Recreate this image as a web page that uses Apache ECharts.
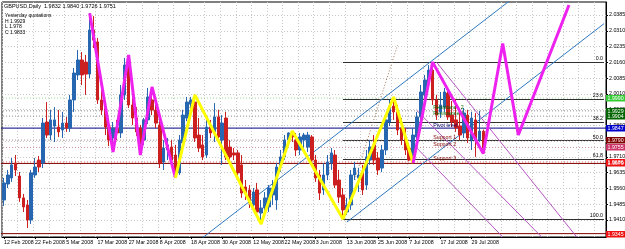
<!DOCTYPE html>
<html><head><meta charset="utf-8">
<script src="https://cdn.jsdelivr.net/npm/echarts@6/dist/echarts.min.js"></script>
<style>html,body{margin:0;padding:0;background:#fff}#c{width:625px;height:249px}</style>
</head><body><div id="c"></div>
<script>
// ---- data ----
const symbolName = 'GBPUSD,Daily';
const openP = [1.9505,1.9581,1.9610,1.9681,1.9619,1.9515,1.9481,1.9410,1.9624,1.9695,1.9681,1.9876,1.9814,1.9857,1.9852,1.9838,
1.9871,
1.9848,1.9981,2.0100,2.0171,2.0161,2.0104,2.0314,2.0257,1.9981,1.9943,1.9852,1.9800,1.9848,1.9824,2.0005,2.0147,1.9957,1.9895,1.9848,1.9790,1.9886,1.9981,1.9933,1.9862,1.9686,1.9743,1.9757,1.9719,1.9634,1.9776,1.9895,1.9962,1.9971,1.9814,1.9767,1.9719,
1.9852,
1.9830,1.9900,1.9790,1.9895,1.9757,1.9729,1.9729,1.9672,1.9567,1.9553,1.9481,1.9553,1.9443,1.9467,1.9472,1.9529,1.9505,1.9662,1.9710,1.9790,1.9824,1.9790,1.9743,1.9790,1.9757,1.9805,1.9695,1.9624,1.9553,1.9624,1.9681,1.9719,1.9600,1.9529,1.9448,1.9481,
1.9624,
1.9610,1.9638,1.9576,1.9695,1.9767,1.9705,1.9657,1.9743,1.9876,1.9952,1.9924,1.9848,1.9800,1.9752,1.9695,1.9805,1.9900,2.0005,2.0066,2.0123,1.9981,1.9924,1.9947,2.0014,1.9909,1.9886,1.9857,1.9824,1.9909,1.9790,1.9886,1.9790,1.9832];
const closeP = [1.9586,1.9624,1.9672,1.9648,1.9515,1.9472,1.9410,1.9634,1.9662,1.9662,1.9871,1.9814,1.9886,1.9886,1.9829,1.9871,
1.9848,
1.9981,2.0109,2.0171,2.0100,2.0104,2.0314,2.0266,1.9981,1.9933,1.9852,1.9790,1.9848,1.9824,2.0005,2.0147,1.9957,1.9895,1.9829,1.9743,1.9886,1.9995,1.9933,1.9871,1.9681,1.9752,1.9767,1.9695,1.9624,1.9790,1.9909,1.9971,1.9981,1.9800,1.9752,1.9710,1.9852,
1.9824,
1.9900,1.9805,1.9871,1.9710,1.9710,1.9719,1.9634,1.9538,1.9538,1.9491,1.9543,1.9448,1.9467,1.9515,1.9562,1.9562,1.9662,1.9710,1.9790,1.9824,1.9805,1.9743,1.9805,1.9814,1.9814,1.9695,1.9610,1.9538,1.9624,1.9686,1.9729,1.9576,1.9519,1.9458,1.9481,1.9624,
1.9657,
1.9624,1.9553,1.9710,1.9757,1.9695,1.9648,1.9743,1.9886,1.9952,1.9924,1.9838,1.9790,1.9743,1.9695,1.9814,1.9900,2.0019,2.0076,2.0123,1.9981,1.9909,1.9957,2.0019,1.9900,1.9876,1.9848,1.9814,1.9919,1.9800,1.9895,1.9790,1.9833,1.9751];
const highP = [1.9610,1.9648,1.9705,1.9719,1.9638,1.9534,1.9505,1.9648,1.9705,1.9714,1.9895,1.9971,1.9933,1.9947,1.9933,1.9924,
1.9900,
2.0005,2.0133,2.0219,2.0209,2.0195,2.0394,2.0380,2.0276,2.0085,1.9957,1.9895,1.9876,1.9886,2.0052,2.0181,2.0195,1.9990,1.9947,1.9862,1.9895,2.0038,2.0043,1.9957,1.9886,1.9790,1.9800,1.9790,1.9767,1.9814,1.9933,1.9995,1.9995,2.0005,1.9895,1.9814,1.9886,
1.9886,
1.9966,1.9933,1.9909,1.9924,1.9790,1.9752,1.9743,1.9719,1.9600,1.9576,1.9562,1.9586,1.9505,1.9543,1.9576,1.9600,1.9681,1.9743,1.9814,1.9826,1.9833,1.9824,1.9824,1.9824,1.9829,1.9814,1.9719,1.9648,1.9681,1.9719,1.9752,1.9743,1.9648,1.9562,1.9515,1.9648,
1.9686,
1.9657,1.9672,1.9743,1.9790,1.9814,1.9733,1.9767,1.9909,1.9981,1.9995,1.9957,1.9895,1.9848,1.9776,1.9848,1.9924,2.0052,2.0100,2.0147,2.0161,2.0005,2.0019,2.0038,2.0038,1.9976,1.9986,1.9933,1.9943,1.9933,1.9924,1.9919,1.9929,1.9840];
const lowP = [1.9477,1.9562,1.9591,1.9619,1.9496,1.9448,1.9372,1.9391,1.9610,1.9638,1.9657,1.9800,1.9790,1.9781,1.9805,1.9800,
1.9829,
1.9829,1.9924,2.0076,2.0052,2.0005,2.0085,2.0228,1.9962,1.9909,1.9814,1.9762,1.9733,1.9790,1.9800,1.9981,1.9943,1.9862,1.9810,1.9719,1.9767,1.9867,1.9909,1.9848,1.9657,1.9648,1.9695,1.9672,1.9610,1.9624,1.9752,1.9880,1.9940,1.9781,1.9733,1.9695,1.9705,
1.9800,
1.9781,1.9790,1.9672,1.9695,1.9686,1.9695,1.9619,1.9515,1.9505,1.9467,1.9458,1.9429,1.9391,1.9434,1.9448,1.9481,1.9458,1.9638,1.9695,1.9767,1.9781,1.9714,1.9719,1.9743,1.9733,1.9672,1.9591,1.9505,1.9529,1.9600,1.9648,1.9562,1.9491,1.9415,1.9434,1.9458,
1.9600,
1.9543,1.9529,1.9553,1.9672,1.9672,1.9624,1.9638,1.9719,1.9857,1.9886,1.9814,1.9767,1.9719,1.9691,1.9681,1.9790,1.9886,1.9981,2.0038,1.9957,1.9886,1.9895,1.9924,1.9886,1.9852,1.9829,1.9790,1.9800,1.9776,1.9743,1.9710,1.9780,1.9726];

const startDate = '2008-02-12';
const totalSlots = 155;
const yTicks = [1.9410,1.9485,1.9560,1.9635,1.9710,1.9785,1.9860,1.9935,2.0010,2.0085,2.0160,2.0235,2.0310,2.0385];

const zigMagentaA = [[22,2.0394],[28,1.9733],[32,2.0195],[35,1.9719],[38,2.0043],[44,1.9610]];
const zigYellow = [[44,1.9610],[49,2.0005],[66,1.9391],[74,1.9833],[87,1.9415],[100,1.9995],[105,1.9681]];
const zigMagentaB = [[105,1.9681],[110,2.0161],[123,1.9726],[128,2.0250],[132,1.9814],[145,2.0433]];

const channelA = [[51,1.9326],[130,2.0456]];
const channelB = [[88,1.9400],[154,2.0344]];
const fibTrend = [[90,1.9600],[101,2.0242]];
const fallLines = [
  [[111,2.0161],[147,1.9329]],
  [[106,1.9930],[138,1.9329]],
  [[104,1.9790],[128,1.9329]]
];

const levelValues = [1.9990,1.9929,1.9904,1.9847,1.9790,1.9755,1.9686,1.9679,1.9345];
const levelColors = ['#33cc33','#006400','#006400','#0000cc','#800000','#cc3366','#ee1111','#ee1111','#ee1111'];
const levelLine = ['#99d699','#8a8a8a','#8a8a8a','#000080','#a08a8a','#d08aa0','#dd6666','#800000','#800000'];
const levelType = [[1,2],[1,2],[1,2],'solid',[1,2],[1,2],[1,2],'solid','solid'];

const fibHigh = 2.0160, fibLow = 1.9415, fibStart = 87;
const fibLevels = [0, 23.6, 38.2, 50.0, 61.8, 100.0];

const pivotNames = ['Resistance 2','Resistance 1','Pivot level','Support 1','Support 2','Support 3'];
const pivotVals = [1.9929,1.9904,1.9847,1.9790,1.9755,1.9686];
const pivotColors = ['#006400','#006400','#000066','#800000','#800000','#800000'];

const yesterday = {H:'1.9929', L:'1.978', C:'1.9833'};

// ---- build ----
const FONT = 'Liberation Sans';
const MON = ['Jan','Feb','Mar','Apr','May','Jun','Jul','Aug','Sep','Oct','Nov','Dec'];
const dates = [];
{
  let d = new Date(startDate + 'T12:00:00Z');
  while (dates.length < totalSlots) {
    const wd = d.getUTCDay();
    if (wd !== 0 && wd !== 6) dates.push(d.getUTCDate() + ' ' + MON[d.getUTCMonth()] + ' ' + d.getUTCFullYear());
    d = new Date(d.getTime() + 86400000);
  }
}
const nBars = openP.length;
const candles = openP.map((o, i) => [o, closeP[i], lowP[i], highP[i]]);

const lineSeries = (data, color, width, type, z) => ({
  type: 'line', data: data, showSymbol: false, symbol: 'none', silent: true, animation: false,
  lineStyle: {color: color, width: width, type: type || 'solid'}, z: z || 3, clip: true
});

const levelSeries = levelValues.map((v, k) => lineSeries([[-1, v], [totalSlots, v]], levelLine[k], 1, levelType[k], 1));

const fibMarks = fibLevels.map(l => {
  const v = fibHigh - (fibHigh - fibLow) * l / 100;
  return [{coord: [fibStart, v], lineStyle: {color: '#303030', type: 'solid', width: 1},
           label: {show: true, position: 'insideEndTop', formatter: l.toFixed(1), fontSize: 5.3,
                   color: '#000', distance: 1, fontFamily: FONT}},
          {coord: [totalSlots - 1, v]}];
});
const pivotMarks = pivotNames.map((n, k) => ({
  coord: [109, pivotVals[k]], symbol: 'rect', symbolSize: 1, itemStyle: {color: 'rgba(0,0,0,0)'},
  label: {show: true, position: 'insideLeft', formatter: n, fontSize: 5.3, color: pivotColors[k],
          offset: [0, -3], fontFamily: FONT}
}));

const showLabel = (i) => i % 8 === 0 && i < nBars;
const chart = echarts.init(document.getElementById('c'), null, {renderer: 'canvas'});
const last = nBars - 1;
const texts = [
  {id: 'hdr', type: 'text', left: 4, top: 3, z: 50, style: {text: symbolName + '  ' + [openP[last], highP[last], lowP[last], closeP[last]].map(v => v.toFixed(4)).join(' '),
    fontSize: 5.5, fill: '#000', fontFamily: FONT}},
  {id: 'yq', type: 'text', left: 5, top: 13, z: 50, style: {text: 'Yesterday quotations\nH ' + yesterday.H + '\nL ' + yesterday.L + '\nC ' + yesterday.C,
    fontSize: 5, lineHeight: 5.6, fill: '#000', fontFamily: FONT}}
];
chart.setOption({
  animation: false,
  backgroundColor: '#ffffff',
  textStyle: {fontFamily: FONT},
  grid: {left: 2, right: 19, top: 2, bottom: 12, containLabel: false, outerBoundsMode: 'none',
         show: true, borderColor: '#000', borderWidth: 1},
  xAxis: {
    type: 'category', data: dates, boundaryGap: true,
    axisLine: {show: true, lineStyle: {color: '#000', width: 1}},
    axisTick: {show: true, alignWithLabel: true, length: 2, interval: showLabel, lineStyle: {color: '#000'}},
    axisLabel: {interval: showLabel, fontSize: 5.3, color: '#000', align: 'left', margin: 3,
                fontFamily: FONT, hideOverlap: false, showMinLabel: true},
    splitLine: {show: true, interval: (i) => i % 4 === 0, lineStyle: {color: '#c8c8c8', type: [1, 2], width: 1}}
  },
  yAxis: {
    type: 'value', position: 'right', min: 1.9329, max: 2.0447, scale: true,
    axisLine: {show: true, lineStyle: {color: '#000'}},
    axisTick: {show: true, length: 2, customValues: yTicks, lineStyle: {color: '#000'}},
    axisLabel: {customValues: yTicks, formatter: (v) => v.toFixed(4), fontSize: 5.3, color: '#000', margin: 3,
                fontFamily: FONT},
    splitLine: {show: true, lineStyle: {color: '#c8c8c8', type: [1, 2], width: 1}}
  },
  graphic: texts,
  series: [
    {
      type: 'candlestick', data: candles, barWidth: 3, silent: true, animation: false, z: 2,
      itemStyle: {color: '#2766b0', color0: '#cc1f1f', borderColor: '#2766b0', borderColor0: '#cc1f1f', borderWidth: 1},
      markLine: {symbol: ['none', 'none'], silent: true, animation: false, z: 1, data: fibMarks},
      markPoint: {silent: true, animation: false, data: pivotMarks}
    },
    lineSeries(channelA, '#2f78bf', 1, 'solid', 2),
    lineSeries(channelB, '#2f78bf', 1, 'solid', 2),
    lineSeries(fibTrend, '#a07050', 1, [1, 2], 2),
    lineSeries(fallLines[0], '#b455c0', 1, 'solid', 2),
    lineSeries(fallLines[1], '#b455c0', 1, 'solid', 2),
    lineSeries(fallLines[2], '#b455c0', 1, 'solid', 2),
    lineSeries(zigMagentaA, '#ee22ee', 3, 'solid', 5),
    lineSeries(zigYellow, '#ffff00', 3, 'solid', 5),
    lineSeries(zigMagentaB, '#ee22ee', 3, 'solid', 5)
  ].concat(levelSeries)
});

// price boxes on the right axis, positioned through the axis scale
const boxes = levelValues.map((v, k) => {
  const y = chart.convertToPixel({yAxisIndex: 0}, v);
  return {
    id: 'box' + k, type: 'group', x: 606, y: Math.round(y) - 3, z: 100,
    children: [
      {type: 'rect', shape: {x: 0, y: 0, width: 19, height: 6.5}, style: {fill: levelColors[k]}, z: 100},
      {type: 'text', x: 1.5, y: 0.6, style: {text: v.toFixed(4), fontSize: 5.3, fill: '#fff', fontFamily: FONT}, z: 101}
    ]
  };
});
chart.setOption({graphic: texts.concat(boxes)});
</script></body></html>
